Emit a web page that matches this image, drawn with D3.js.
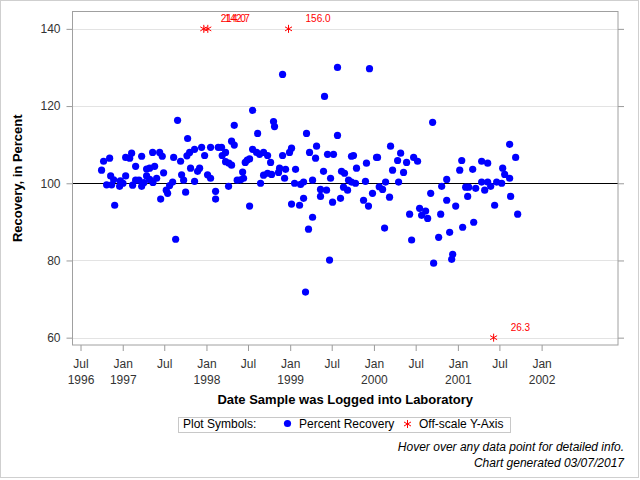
<!DOCTYPE html>
<html><head><meta charset="utf-8">
<script src="https://cdn.jsdelivr.net/npm/d3@7"></script>
<style>
html,body{margin:0;padding:0;background:#fff;}
svg{display:block;font-family:"Liberation Sans",Arial,sans-serif;}
</style></head><body>
<svg id="chart" width="640" height="480"></svg>
<script>
// Sample log date (decimal year) and percent recovery
const sampleYear = [
1996.748,1996.772,1996.844,1996.808,1996.856,1996.868,1996.904,1996.892,1996.971,1996.963,
1997.003,1997.035,1997.035,1997.083,1997.106,1997.118,1997.154,1997.154,1997.194,1997.226,
1997.226,1997.254,1997.285,1997.285,1997.321,1997.321,1997.357,1997.381,1997.361,1997.405,
1997.441,1997.472,1997.488,1997.453,1997.520,1997.536,1997.560,1997.596,1997.608,1997.655,
1997.632,1997.691,1997.703,1997.727,1997.751,1997.775,1997.767,1997.799,1997.810,1997.858,
1997.858,1997.894,1997.918,1997.942,1997.978,1998.013,1998.049,1998.049,1998.109,1998.109,
1998.141,1998.180,1998.188,1998.228,1998.228,1998.268,1998.300,1998.264,1998.300,1998.332,
1998.332,1998.367,
1998.408,1998.443,1998.432,1998.463,1998.487,1998.515,1998.515,1998.551,1998.551,1998.611,
1998.599,1998.634,1998.682,1998.730,1998.646,1998.682,1998.730,1998.778,1998.766,1998.801,
1998.813,1998.861,1998.873,1998.909,1998.909,1998.933,1998.945,1998.992,1999.016,1999.016,
1999.052,1999.064,1999.112,1999.124,1999.160,1999.160,1999.195,1999.219,1999.231,1999.267,
1999.267,1999.303,1999.315,1999.183,1999.362,1999.362,1999.398,1999.410,1999.434,1999.446,
1999.517,1999.470,1999.482,1999.506,1999.565,1999.565,1999.601,1999.613,1999.649,1999.637,
1999.685,1999.697,1999.732,1999.780,1999.732,1999.756,1999.792,1999.876,1999.899,1999.911,
1999.935,1999.947,1999.983,2000.031,2000.043,2000.063,
2000.103,2000.139,2000.127,2000.186,2000.198,2000.222,2000.282,2000.294,2000.318,2000.353,
2000.389,2000.425,2000.449,2000.473,2000.520,2000.544,2000.568,2000.616,2000.640,2000.676,
2000.699,2000.711,2000.771,2000.795,2000.807,2000.867,2000.867,2000.902,2000.938,2000.926,
2000.974,2001.022,2001.046,2001.057,2001.093,2001.129,2001.117,2001.177,2001.189,2001.213,
2001.284,2001.284,2001.356,2001.320,2001.356,2001.392,2001.439,2001.463,2001.523,2001.535,
2001.559,2001.618,2001.618,2001.630,2001.690,2001.714
];
const recovery = [
103.4,105.7,106.5,99.6,101.9,99.6,94.3,100.9,100.6,99.2,
100.0,101.9,106.7,106.5,107.8,99.5,104.4,100.8,100.8,107.0,
99.2,100.2,103.7,101.9,103.9,101.0,108.0,104.4,100.2,101.3,
108.0,107.0,102.7,95.9,98.2,97.4,99.4,100.3,106.7,116.3,
85.5,105.7,102.2,100.8,97.7,111.6,107.1,108.0,103.9,108.8,
100.5,103.1,103.9,109.3,107.2,102.2,101.3,109.3,97.9,95.9,
109.3,109.3,107.2,108.0,105.6,105.2,104.7,99.2,110.9,115.0,
109.9,100.8,
100.9,101.3,102.9,105.4,106.0,106.3,94.1,118.9,108.8,112.9,
108.0,107.5,108.0,107.2,100.0,102.1,102.6,102.3,105.4,116.0,
114.7,102.8,103.9,107.2,128.2,101.3,103.6,108.0,109.1,94.6,
100.0,103.6,94.3,99.7,100.3,96.1,112.9,88.1,108.0,91.2,
100.8,106.5,109.6,71.8,98.4,96.6,103.1,122.5,98.2,107.5,
107.5,80.1,101.3,95.1,130.0,112.4,96.1,103.1,102.6,99.0,
98.2,100.8,100.3,100.0,107.0,107.2,103.9,95.6,100.5,105.2,
94.1,129.7,97.4,106.7,106.7,99.1,
98.4,100.3,88.4,96.4,109.6,103.4,105.9,100.3,107.8,102.8,
105.4,92.0,85.3,106.7,105.7,93.5,91.7,92.8,90.9,97.4,
115.8,79.3,86.0,92.0,99.2,101.0,95.6,87.3,81.6,80.3,
94.1,103.4,105.9,88.6,99.0,99.0,96.6,103.6,89.9,98.7,
100.3,105.7,105.2,98.2,100.3,99.2,94.3,100.3,100.0,103.9,
102.3,101.3,110.1,96.6,106.7,92.0
];
// Off-scale samples (actual values, plotted at the axis limit)
const offYear  = [1997.968, 1998.016, 1998.980, 2001.427];
const offValue = [214.0, 142.7, 156.0, 26.3];
const offLimits = [60, 140];

const xTickDates = ["1996-07-01","1997-01-01","1997-07-01","1998-01-01","1998-07-01","1999-01-01",
                    "1999-07-01","2000-01-01","2000-07-01","2001-01-01","2001-07-01","2002-01-01"];
const xTickMonth = ["Jul","Jan","Jul","Jan","Jul","Jan","Jul","Jan","Jul","Jan","Jul","Jan"];
const xTickYear  = ["1996","1997","","1998","","1999","","2000","","2001","","2002"];
const yTicks = [60, 80, 100, 120, 140];
const refValue = 100;

function yearToDate(y){
  const Y = Math.floor(y);
  const a = new Date(Y,0,1), b = new Date(Y+1,0,1);
  return new Date(+a + (y - Y) * (b - a));
}
const parseDay = d3.timeParse("%Y-%m-%d");

const L = 72.5, R = 618, T = 11.5, B = 345;
const svg = d3.select("#chart");
const x = d3.scaleTime().domain([new Date(1996,4,27), new Date(2002,10,30)]).range([L, R]);
const y = d3.scaleLinear().domain([58.1, 144.5]).range([B, T]);

// outer border
svg.append("rect").attr("x",0.5).attr("y",0.5).attr("width",638).attr("height",477)
  .attr("fill","#fff").attr("stroke","#cfcfcf");

// gridlines
svg.append("g").selectAll("line").data(yTicks.filter(v => v !== refValue)).join("line")
  .attr("x1",L).attr("x2",R)
  .attr("y1",d => Math.round(y(d))+0.5).attr("y2",d => Math.round(y(d))+0.5)
  .attr("stroke","#e3e3e3");

// reference line
svg.append("line").attr("x1",L).attr("x2",R)
  .attr("y1",Math.round(y(refValue))+0.5).attr("y2",Math.round(y(refValue))+0.5)
  .attr("stroke","#000").attr("stroke-width",1);

// axes
const yAxis = svg.append("g").attr("transform",`translate(${L},0)`)
  .call(d3.axisLeft(y).tickValues(yTicks).tickSize(6).tickPadding(6).tickFormat(d3.format("d")));
yAxis.select(".domain").remove();
yAxis.selectAll(".tick line").attr("stroke","#9a9a9a");
yAxis.selectAll(".tick text").attr("font-size",12).attr("fill","#333").attr("font-family","Liberation Sans, Arial, sans-serif");

const yAxisR = svg.append("g").attr("transform",`translate(${R},0)`)
  .call(d3.axisRight(y).tickValues(yTicks).tickSize(6).tickFormat(""));
yAxisR.select(".domain").remove();
yAxisR.selectAll(".tick line").attr("stroke","#9a9a9a");

const xAxis = svg.append("g").attr("transform",`translate(0,${B})`)
  .call(d3.axisBottom(x).tickValues(xTickDates.map(parseDay)).tickSize(6).tickFormat(""));
xAxis.select(".domain").remove();
xAxis.selectAll(".tick line").attr("stroke","#9a9a9a");
xAxis.selectAll(".tick text").remove();
xAxis.selectAll(".tick").each(function(d,i){
  const t = d3.select(this).append("text").attr("text-anchor","middle")
    .attr("font-size",12).attr("fill","#333").attr("font-family","Liberation Sans, Arial, sans-serif");
  t.append("tspan").attr("x",0).attr("y",23).text(xTickMonth[i]);
  if (xTickYear[i]) t.append("tspan").attr("x",0).attr("y",39).text(xTickYear[i]);
});

// frame
svg.append("rect").attr("x",L).attr("y",T).attr("width",R-L).attr("height",B-T)
  .attr("fill","none").attr("stroke","#a0a0a0");

// points
svg.append("g").selectAll("circle").data(sampleYear.map((d,i)=>({d:yearToDate(d), v:recovery[i]}))).join("circle")
  .attr("cx",p => x(p.d)).attr("cy",p => y(p.v)).attr("r",3.6).attr("fill","#0000ff");

// off-scale stars
const star = d3.symbol(d3.symbolAsterisk, 45);
const offData = offYear.map((d,i)=>({d:yearToDate(d), v:offValue[i],
  pv: Math.max(offLimits[0], Math.min(offLimits[1], offValue[i]))}));
svg.append("g").selectAll("path").data(offData).join("path")
  .attr("d",star).attr("transform",p => `translate(${x(p.d)},${y(p.pv)})`)
  .attr("fill","none").attr("stroke","#ff0000").attr("stroke-width",1);
svg.append("g").selectAll("text").data(offData).join("text")
  .attr("x",p => x(p.d)+17).attr("y",p => y(p.pv)-7)
  .attr("font-size",10).attr("fill","#ff0000").text(p => p.v.toFixed(1));

// titles
svg.append("text").attr("transform",`translate(22,${(T+B)/2}) rotate(-90)`)
  .attr("text-anchor","middle").attr("font-size",13).attr("font-weight","bold").attr("fill","#000")
  .text("Recovery, in Percent");
svg.append("text").attr("x",(L+R)/2).attr("y",404).attr("text-anchor","middle")
  .attr("font-size",13).attr("font-weight","bold").attr("fill","#000")
  .text("Date Sample was Logged into Laboratory");

// legend
const lg = svg.append("g");
lg.append("rect").attr("x",178.5).attr("y",417.5).attr("width",332).attr("height",15)
  .attr("fill","#fff").attr("stroke","#c8c8c8");
lg.append("text").attr("x",183).attr("y",427.5).attr("font-size",12).attr("fill","#000").text("Plot Symbols:");
lg.append("circle").attr("cx",287.5).attr("cy",423.5).attr("r",3.6).attr("fill","#0000ff");
lg.append("text").attr("x",299).attr("y",427.5).attr("font-size",12).attr("fill","#000").text("Percent Recovery");
lg.append("path").attr("d",star).attr("transform","translate(407.5,424)")
  .attr("fill","none").attr("stroke","#ff0000");
lg.append("text").attr("x",419).attr("y",427.5).attr("font-size",12).attr("fill","#000").text("Off-scale Y-Axis");

// footnotes
svg.append("text").attr("x",624).attr("y",451).attr("text-anchor","end").attr("font-size",12)
  .attr("font-style","italic").attr("fill","#000").text("Hover over any data point for detailed info.");
svg.append("text").attr("x",624).attr("y",467).attr("text-anchor","end").attr("font-size",12)
  .attr("font-style","italic").attr("fill","#000").text("Chart generated 03/07/2017");
</script>
</body></html>
